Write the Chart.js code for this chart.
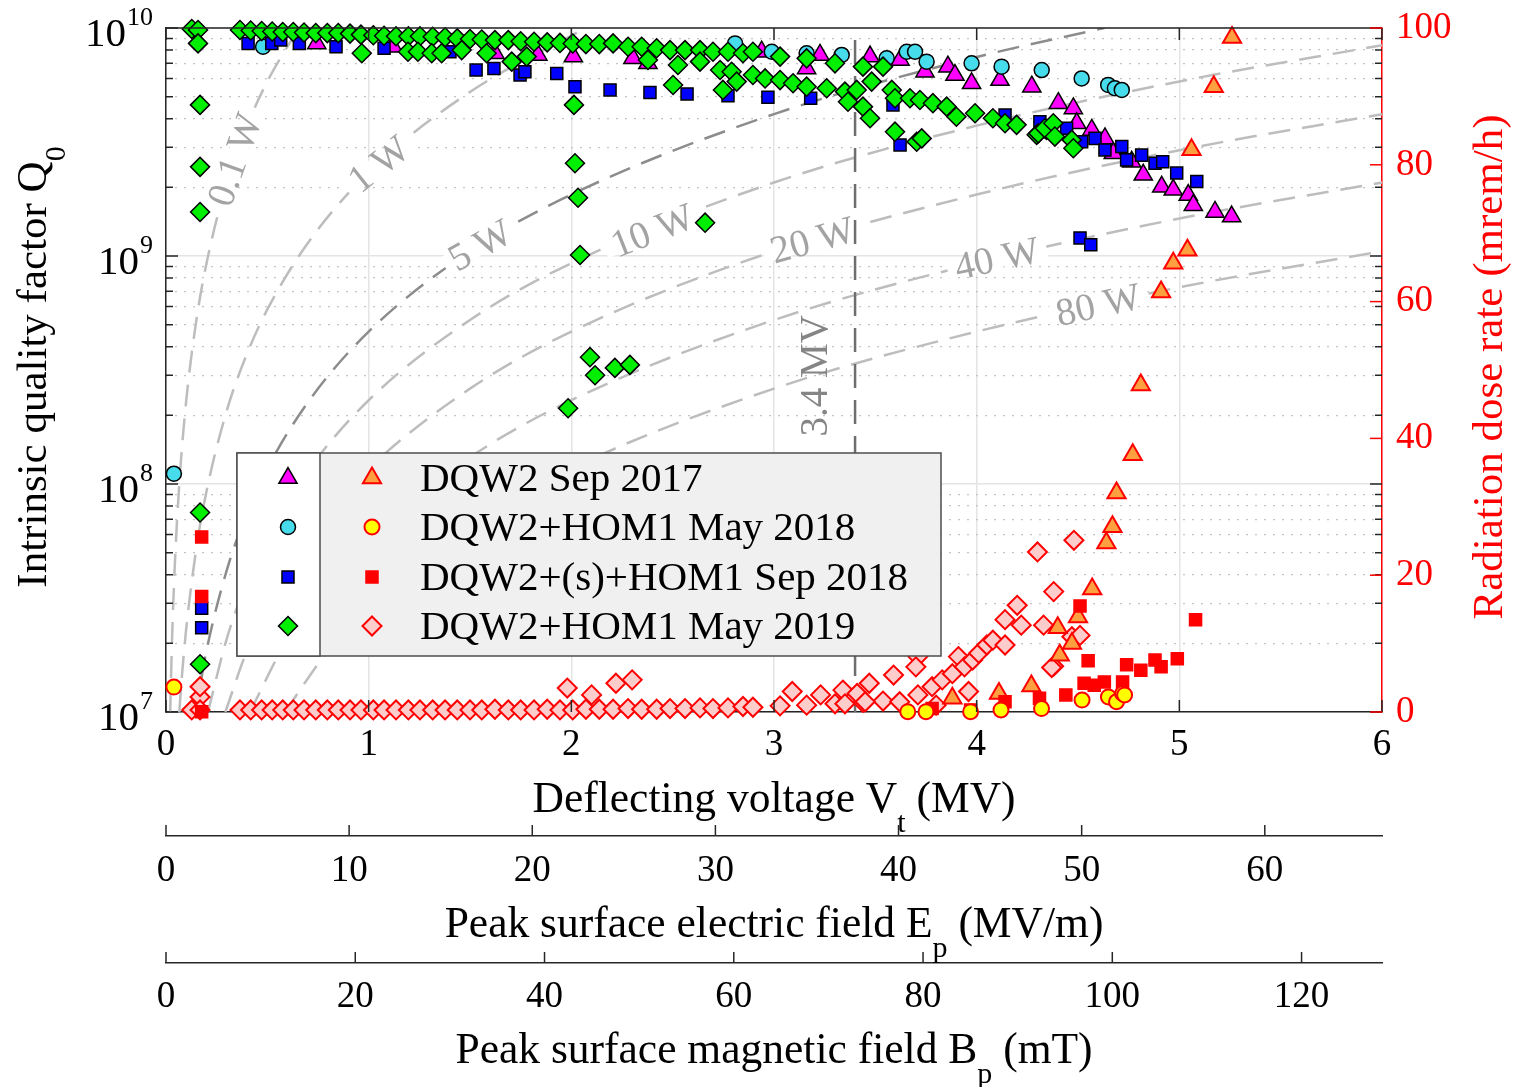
<!DOCTYPE html>
<html lang="en">
<head>
<meta charset="UTF-8">
<title>DQW2 cavity: Q0 and radiation vs deflecting voltage</title>
<script src="https://cdn.jsdelivr.net/npm/chart.js"></script>
<style>
  body { margin: 0; background: #ffffff; }
  #wrap { width: 1520px; height: 1087px; }
</style>
</head>
<body>
<div id="wrap"><canvas id="c" width="1520" height="1087"></canvas></div>
<script>
const SERIF = '"Liberation Serif", "DejaVu Serif", serif';

// axis ranges / ticks
const epMax = 66.4;   // MV/m at Vt = 6 MV
const bpMax = 128.5;  // mT at Vt = 6 MV
const qTicks = [1e7,2e7,3e7,4e7,5e7,6e7,7e7,8e7,9e7,1e8,2e8,3e8,4e8,5e8,6e8,7e8,8e8,9e8,
                1e9,2e9,3e9,4e9,5e9,6e9,7e9,8e9,9e9,1e10];
const qMajor = [1e7, 1e8, 1e9, 1e10];
const qMajorExp = ['7', '8', '9', '10'];

// DQW2 Sep 2017 : Q0 (left) and dose rate (right)
const s17V = [0.744,1.120,1.623,1.835,2.010,2.304,2.378,2.939,3.161,3.227,3.474,3.622,3.745,3.858,3.893,3.975,
              4.115,4.272,4.403,4.477,4.494,4.568,4.633,4.674,4.765,4.822,4.913,4.970,5.044,5.069,5.176,5.258];
const s17Q = [8.56e9,8.28e9,7.75e9,7.62e9,7.49e9,7.36e9,7.0e9,7.87e9,6.65e9,7.62e9,7.49e9,7.24e9,6.43e9,6.77e9,6.22e9,5.72e9,
              5.91e9,5.53e9,4.68e9,4.44e9,3.82e9,3.57e9,3.28e9,2.82e9,2.59e9,2.27e9,2.01e9,1.95e9,1.85e9,1.67e9,1.56e9,1.49e9];
const s17RV = [3.88,4.11,4.27,4.40,4.41,4.47,4.50,4.57,4.64,4.67,4.69,4.77,4.81,4.91,4.97,5.04,5.06,5.17,5.26];
const s17R  = [2.0,2.7,3.8,12.3,8.3,10.0,13.9,18.0,24.7,27.1,32.0,37.6,47.8,61.4,65.6,67.5,82.2,91.4,98.6];

// DQW2+HOM1 May 2018
const m18V = [0.039,0.479,2.808,2.989,3.161,3.334,3.556,3.655,3.696,3.753,3.975,4.123,4.321,4.518,4.649,4.682,4.716];
const m18Q = [1.11e8,8.28e9,8.56e9,7.87e9,7.75e9,7.62e9,7.36e9,7.87e9,7.87e9,7.12e9,7.0e9,6.77e9,6.54e9,6.01e9,5.63e9,5.44e9,5.35e9];
const m18RV = [0.039,3.66,3.75,3.97,4.12,4.32,4.52,4.65,4.69,4.72,4.73];
const m18R  = [3.65,0.05,0.05,0.05,0.3,0.5,1.75,2.2,1.5,2.7,2.5];

// DQW2+(s)+HOM1 Sep 2018
const s18V = [0.176,0.176,0.405,0.522,0.566,0.658,0.839,1.076,1.401,1.530,1.618,1.747,1.771,1.928,2.018,2.191,2.388,2.571,2.773,
              2.970,3.181,3.587,3.622,4.140,4.312,4.444,4.518,4.584,4.633,4.716,4.740,4.814,4.880,4.918,4.987,5.086,4.510,4.563];
const s18Q = [2.85e7,2.34e7,8.56e9,8.56e9,8.86e9,8.56e9,8.28e9,8.15e9,7.87e9,6.54e9,6.65e9,6.22e9,6.43e9,6.32e9,5.53e9,5.35e9,5.21e9,5.14e9,5.04e9,
              4.97e9,4.92e9,4.6e9,3.07e9,4.15e9,3.88e9,3.63e9,3.17e9,3.28e9,2.92e9,3.02e9,2.64e9,2.77e9,2.55e9,2.59e9,2.31e9,2.12e9,1.20e9,1.12e9];
const s18RV = [0.176,0.176,0.176,3.78,3.97,4.14,4.31,4.44,4.53,4.55,4.51,4.58,4.63,4.72,4.74,4.81,4.88,4.91,4.99,5.08];
const s18R  = [25.6,16.9,0.05,0.5,0.3,1.5,2.0,2.5,4.2,7.5,15.5,3.9,4.4,4.4,6.9,6.1,7.6,6.6,7.8,13.5];

// DQW2+HOM1 May 2019
const m19V = [0.127,0.158,0.158,0.168,0.168,0.168,0.168,0.168,
  0.365,0.418,0.472,0.524,0.576,0.628,0.681,0.739,0.796,0.850,0.908,0.962,1.023,1.076,1.135,1.196,1.253,1.316,1.377,1.437,
  1.500,1.558,1.623,1.689,1.750,1.816,1.881,1.944,2.007,2.072,2.138,2.206,2.280,2.347,2.421,2.487,2.561,2.635,2.699,2.773,
  2.847,2.896,3.030,3.161,3.301,3.439,3.538,
  0.966,1.194,1.243,1.311,1.360,1.459,1.582,1.706,1.780,2.013,2.018,2.033,2.043,2.092,2.117,2.215,2.289,1.984,2.66,2.378,
  2.526,2.635,2.734,2.791,2.816,2.748,2.896,2.956,3.030,3.094,3.161,3.260,3.350,3.408,3.365,3.439,3.474,3.482,3.581,3.597,
  3.671,3.720,3.784,3.852,3.900,3.992,4.080,4.140,4.197,4.296,4.345,2.502,3.597,3.704,3.729,4.304,4.337,4.378,4.386,4.469,4.477];
const m19Q = [9.9e9,9.8e9,8.56e9,4.6e9,2.46e9,1.56e9,7.5e7,1.62e7,
  9.8e9,9.75e9,9.7e9,9.65e9,9.6e9,9.6e9,9.55e9,9.5e9,9.5e9,9.5e9,9.45e9,9.35e9,9.3e9,9.25e9,9.2e9,9.2e9,9.2e9,9.15e9,9.1e9,9.0e9,
  8.95e9,8.9e9,8.85e9,8.85e9,8.75e9,8.7e9,8.65e9,8.6e9,8.55e9,8.5e9,8.5e9,8.56e9,8.28e9,8.28e9,8.15e9,8.0e9,8.0e9,8.0e9,7.87e9,7.87e9,
  7.75e9,7.87e9,7.49e9,7.36e9,7.0e9,6.77e9,6.77e9,
  7.75e9,7.87e9,7.87e9,7.75e9,7.75e9,8.0e9,7.75e9,7.12e9,7.49e9,4.6e9,2.55e9,1.80e9,1.01e9,3.6e8,3.0e8,3.23e8,3.33e8,2.15e8,1.40e9,7.24e9,
  6.88e9,7.12e9,6.54e9,6.43e9,5.82e9,5.35e9,6.22e9,6.01e9,5.91e9,5.72e9,5.53e9,5.44e9,5.26e9,5.35e9,4.75e9,4.52e9,4.02e9,5.82e9,5.35e9,4.92e9,
  4.92e9,4.83e9,4.68e9,4.52e9,4.08e9,4.23e9,4.02e9,3.82e9,3.76e9,3.4e9,3.57e9,5.62e9,3.51e9,3.17e9,3.28e9,3.45e9,3.63e9,3.82e9,3.34e9,3.23e9,2.97e9];
const m19RV = [0.127,0.168,0.168,0.168,
  0.365,0.418,0.472,0.524,0.576,0.628,0.681,0.739,0.796,0.850,0.908,0.962,1.023,1.076,1.135,1.196,1.253,1.316,1.377,1.437,
  1.500,1.558,1.623,1.689,1.750,1.816,1.881,1.944,2.007,2.072,2.138,2.206,2.280,2.347,2.421,2.487,2.561,2.635,2.699,2.773,
  2.847,2.896,3.030,3.161,3.301,3.439,3.538,
  1.98,2.10,2.22,2.30,3.09,3.23,3.34,3.41,3.47,3.59,3.71,3.70,3.71,3.78,3.83,3.88,3.91,3.94,3.98,4.01,
  4.05,4.08,4.14,4.14,4.20,4.22,4.30,4.33,4.38,4.38,4.47,4.51,4.48,4.37,3.96,3.35,3.45,3.62,3.80];
const m19R = [0.3,2.2,3.7,0.3,
  0.3,0.3,0.3,0.3,0.3,0.3,0.3,0.3,0.3,0.3,0.3,0.3,0.3,0.3,0.3,0.3,0.3,0.3,0.3,0.3,
  0.3,0.3,0.4,0.3,0.3,0.3,0.4,0.3,0.3,0.4,0.4,0.4,0.5,0.4,0.4,0.5,0.5,0.6,0.5,0.6,
  0.8,0.7,0.9,1.0,1.2,1.4,1.6,
  3.5,2.5,4.2,4.7,3.0,2.5,3.2,2.7,4.2,5.4,8.1,6.6,2.5,3.7,4.7,5.6,8.1,6.6,7.6,8.6,
  9.8,10.5,9.8,13.5,15.6,12.7,23.4,12.7,17.6,6.7,11.0,11.2,25.1,6.5,3.0,1.2,1.5,1.5,1.0];

// constant dissipated power curves
const p01V = [0.0207,0.03,0.04,0.05,0.07,0.1,0.15,0.2,0.3,0.4,0.5,0.655];
const p01Q = [1e7,2.1e7,3.73e7,5.83e7,1.14e8,2.33e8,5.24e8,9.3e8,2.1e9,3.73e9,5.83e9,1e10];
const p1V = [0.0655,0.08,0.1,0.15,0.2,0.3,0.4,0.5,0.7,1.0,1.5,2.07];
const p1Q = [1e7,1.49e7,2.33e7,5.24e7,9.3e7,2.1e8,3.73e8,5.83e8,1.14e9,2.33e9,5.24e9,1e10];
const p5V = [0.1465,0.2,0.3,0.4,0.5,0.7,1.0,1.5,2,3,4,4.63];
const p5Q = [1e7,1.86e7,4.19e7,7.46e7,1.17e8,2.28e8,4.66e8,1.05e9,1.86e9,4.19e9,7.46e9,1e10];
const p10V = [0.207,0.3,0.4,0.5,0.7,1,1.5,2,3,4,5,6];
const p10Q = [1e7,2.1e7,3.73e7,5.83e7,1.14e8,2.33e8,5.24e8,9.3e8,2.1e9,3.73e9,5.83e9,8.4e9];
const p20V = [0.293,0.4,0.6,0.8,1,1.5,2,3,4,5,6];
const p20Q = [1e7,1.86e7,4.19e7,7.46e7,1.17e8,2.62e8,4.66e8,1.05e9,1.86e9,2.91e9,4.19e9];
const p40V = [0.414,0.6,0.8,1,1.5,2,3,4,5,6];
const p40Q = [1e7,2.1e7,3.73e7,5.83e7,1.31e8,2.33e8,5.24e8,9.3e8,1.46e9,2.1e9];
const p80V = [0.586,0.8,1,1.5,2,3,4,5,6];
const p80Q = [1e7,1.86e7,2.91e7,6.55e7,1.17e8,2.62e8,4.66e8,7.29e8,1.05e9];
const vlineV = [3.4, 3.4];
const vlineQ = [1e7, 1e10];

const seriesNames = ['DQW2 Sep 2017', 'DQW2+HOM1 May 2018', 'DQW2+(s)+HOM1 Sep 2018', 'DQW2+HOM1 May 2019'];

// marker styles
const st = {
  s17Q: { shape: 'triangle', fill: '#ff00ff', edge: '#000000', bw: 1.5, r: 10.5 },
  m18Q: { shape: 'circle',   fill: '#47dcec', edge: '#000000', bw: 1.5, r: 7.5 },
  s18Q: { shape: 'rect',     fill: '#0000ff', edge: '#000000', bw: 1.5, r: 8.5 },
  m19Q: { shape: 'rectRot',  fill: '#00ee00', edge: '#000000', bw: 1.5, r: 9.5 },
  s17R: { shape: 'triangle', fill: '#ffa040', edge: '#ff0000', bw: 2, r: 10.5 },
  m18R: { shape: 'circle',   fill: '#ffff00', edge: '#ff0000', bw: 2, r: 7.5 },
  s18R: { shape: 'rect',     fill: '#ff0000', edge: '#ff0000', bw: 1.5, r: 8.5 },
  m19R: { shape: 'rectRot',  fill: '#ffcccc', edge: '#ff0000', bw: 2, r: 9.5 }
};

function pts(xs, ys) { return xs.map((x, i) => ({ x: x, y: ys[i] })); }
const isDecade = v => Math.abs(Math.log10(v) - Math.round(Math.log10(v))) < 1e-6;

function markerSet(label, xs, ys, axis, s, order) {
  return { label, data: pts(xs, ys), yAxisID: axis, showLine: false, clip: false, order,
    pointStyle: s.shape, pointRadius: s.r, pointHoverRadius: s.r,
    pointBackgroundColor: s.fill, pointBorderColor: s.edge, pointBorderWidth: s.bw };
}
function wattLine(label, xs, ys, color, labelV, order) {
  return { type: 'line', label, data: pts(xs, ys), yAxisID: 'y', pointRadius: 0, fill: false,
    borderColor: color, borderWidth: 2.5, borderDash: [22, 12], cubicInterpolationMode: 'monotone',
    wattLabel: label, labelV, order };
}

const datasets = [
  wattLine('0.1 W', p01V, p01Q, '#bdbdbd', 0.34, 30),
  wattLine('1 W', p1V, p1Q, '#bdbdbd', 1.05, 29),
  wattLine('5 W', p5V, p5Q, '#8c8c8c', 1.55, 28),
  wattLine('10 W', p10V, p10Q, '#bdbdbd', 2.40, 27),
  wattLine('20 W', p20V, p20Q, '#bdbdbd', 3.19, 26),
  wattLine('40 W', p40V, p40Q, '#bdbdbd', 4.10, 25),
  wattLine('80 W', p80V, p80Q, '#bdbdbd', 4.60, 24),
  { type: 'line', label: '3.4 MV', data: pts(vlineV, vlineQ), yAxisID: 'y', pointRadius: 0, fill: false,
    borderColor: '#6e6e6e', borderWidth: 2.5, borderDash: [24, 12], tension: 0, vLabel: '3.4 MV', labelQ: 2.98e8, order: 20 },
  markerSet(seriesNames[0], s17V, s17Q, 'y', st.s17Q, 9),
  markerSet(seriesNames[1], m18V, m18Q, 'y', st.m18Q, 8),
  markerSet(seriesNames[2], s18V, s18Q, 'y', st.s18Q, 7),
  markerSet(seriesNames[3], m19V, m19Q, 'y', st.m19Q, 6),
  markerSet(seriesNames[3] + ' dose', m19RV, m19R, 'yR', st.m19R, 4),
  markerSet(seriesNames[0] + ' dose', s17RV, s17R, 'yR', st.s17R, 3),
  markerSet(seriesNames[2] + ' dose', s18RV, s18R, 'yR', st.s18R, 2),
  markerSet(seriesNames[1] + ' dose', m18RV, m18R, 'yR', st.m18R, 1)
];

function drawMarker(ctx, s, x, y) {
  const r = s.r;
  ctx.save();
  ctx.beginPath();
  if (s.shape === 'circle') ctx.arc(x, y, r, 0, Math.PI * 2);
  else if (s.shape === 'triangle') {
    ctx.moveTo(x, y - r); ctx.lineTo(x + r * 0.866, y + r / 2); ctx.lineTo(x - r * 0.866, y + r / 2); ctx.closePath();
  } else if (s.shape === 'rect') {
    const h = r * Math.SQRT1_2; ctx.rect(x - h, y - h, 2 * h, 2 * h);
  } else {
    ctx.moveTo(x, y - r); ctx.lineTo(x + r, y); ctx.lineTo(x, y + r); ctx.lineTo(x - r, y); ctx.closePath();
  }
  ctx.fillStyle = s.fill; ctx.fill();
  ctx.lineWidth = s.bw; ctx.strokeStyle = s.edge; ctx.stroke();
  ctx.restore();
}

// text with subscripts, centred on x, baseline y
function subText(ctx, parts, x, y, size, color) {
  const sub = Math.round(size * 0.7);
  let total = 0;
  const w = parts.map(p => { ctx.font = (p[1] ? sub : size) + 'px ' + SERIF; const m = ctx.measureText(p[0]).width; total += m; return m; });
  let cx = x - total / 2;
  ctx.fillStyle = color; ctx.textAlign = 'left'; ctx.textBaseline = 'alphabetic';
  parts.forEach((p, i) => {
    ctx.font = (p[1] ? sub : size) + 'px ' + SERIF;
    ctx.fillText(p[0], cx, y + (p[1] ? size * 0.45 : 0));
    cx += w[i];
  });
}

const overlay = {
  id: 'overlay',
  afterDatasetDraw(chart, args) {
    const ds = chart.data.datasets[args.index];
    const ctx = chart.ctx;
    if (ds.wattLabel) {
      const el = args.meta.data;
      const px = chart.scales.x.getPixelForValue(ds.labelV);
      let i = 1;
      while (i < el.length - 1 && el[i].x < px) i++;
      const a = el[i - 1], b = el[i];
      const py = a.y + (px - a.x) / (b.x - a.x) * (b.y - a.y);
      const ang = Math.atan2(b.y - a.y, b.x - a.x);
      ctx.save();
      ctx.translate(px, py); ctx.rotate(ang);
      ctx.font = '39px ' + SERIF;
      const tw = ctx.measureText(ds.wattLabel).width;
      ctx.fillStyle = '#ffffff'; ctx.fillRect(-tw / 2 - 8, -9, tw + 16, 18);
      ctx.fillStyle = '#a3a3a3'; ctx.textAlign = 'center'; ctx.textBaseline = 'middle';
      ctx.fillText(ds.wattLabel, 0, 2);
      ctx.restore();
    }
    if (ds.vLabel) {
      const px = chart.scales.x.getPixelForValue(ds.data[0].x) - 40;
      const py = chart.scales.y.getPixelForValue(ds.labelQ);
      ctx.save();
      ctx.translate(px, py); ctx.rotate(-Math.PI / 2);
      ctx.font = '39px ' + SERIF; ctx.fillStyle = '#858585';
      ctx.textAlign = 'center'; ctx.textBaseline = 'middle';
      ctx.fillText(ds.vLabel, 0, 2);
      ctx.restore();
    }
  },
  afterDraw(chart) {
    const ctx = chart.ctx, ca = chart.chartArea;
    const sx = chart.scales.x, sy = chart.scales.y, sr = chart.scales.yR;
    ctx.save();
    // top frame line
    ctx.strokeStyle = '#262626'; ctx.lineWidth = 1.5;
    ctx.beginPath(); ctx.moveTo(ca.left, ca.top); ctx.lineTo(ca.right, ca.top); ctx.stroke();
    // inward ticks, x
    sx.ticks.forEach(t => {
      const x = sx.getPixelForValue(t.value);
      ctx.beginPath(); ctx.moveTo(x, ca.bottom); ctx.lineTo(x, ca.bottom - 12);
      ctx.moveTo(x, ca.top); ctx.lineTo(x, ca.top + 12); ctx.stroke();
    });
    // inward ticks, log axis (both sides)
    sy.ticks.forEach(t => {
      const y = sy.getPixelForValue(t.value);
      const len = isDecade(t.value) ? 12 : 7;
      ctx.strokeStyle = '#262626';
      ctx.beginPath(); ctx.moveTo(ca.left, y); ctx.lineTo(ca.left + len, y);
      ctx.moveTo(ca.right, y); ctx.lineTo(ca.right - len, y); ctx.stroke();
    });
    // right axis ticks
    ctx.strokeStyle = '#ff0000';
    sr.ticks.forEach(t => {
      const y = sr.getPixelForValue(t.value);
      ctx.beginPath(); ctx.moveTo(ca.right, y); ctx.lineTo(ca.right - 12, y); ctx.stroke();
    });
    // secondary x axes, upward ticks
    ['x2', 'x3'].forEach(id => {
      const s = chart.scales[id];
      ctx.strokeStyle = '#262626';
      s.ticks.forEach(t => {
        const x = s.getPixelForValue(t.value);
        ctx.beginPath(); ctx.moveTo(x, s.top); ctx.lineTo(x, s.top - 11); ctx.stroke();
      });
    });
    // left tick labels 10^n
    ctx.fillStyle = '#000'; ctx.textAlign = 'right'; ctx.textBaseline = 'alphabetic';
    qMajor.forEach((v, i) => {
      const y = sy.getPixelForValue(v);
      const xr = ca.left - 13;
      ctx.font = '26px ' + SERIF;
      const ew = ctx.measureText(qMajorExp[i]).width;
      ctx.fillText(qMajorExp[i], xr, y - 3);
      ctx.font = '41px ' + SERIF;
      ctx.fillText('10', xr - ew - 1, y + 18);
    });
    // axis titles
    const cx = (ca.left + ca.right) / 2;
    subText(ctx, [['Deflecting voltage V', false], ['t', true], [' (MV)', false]], cx, sx.top + 100, 43.5, '#000');
    subText(ctx, [['Peak surface electric field E', false], ['p', true], [' (MV/m)', false]], cx, chart.scales.x2.top + 101, 43.5, '#000');
    subText(ctx, [['Peak surface magnetic field B', false], ['p', true], [' (mT)', false]], cx, chart.scales.x3.top + 100, 43.5, '#000');
    const cy = (ca.top + ca.bottom) / 2;
    ctx.save(); ctx.translate(46, cy - 3); ctx.rotate(-Math.PI / 2);
    subText(ctx, [['Intrinsic quality factor Q', false], ['0', true]], 0, 0, 43, '#000');
    ctx.restore();
    ctx.save(); ctx.translate(1502, cy - 3); ctx.rotate(-Math.PI / 2);
    subText(ctx, [['Radiation dose rate (mrem/h)', false]], 0, 0, 43, '#ff0000');
    ctx.restore();
    // legend
    const lg = { x: 237, y: 453, w: 704, h: 203, split: 83, rows: [478, 527, 577, 626], m1: 288, m2: 372, tx: 420 };
    ctx.lineWidth = 1.5; ctx.strokeStyle = '#4d4d4d';
    ctx.fillStyle = '#f0f0f0'; ctx.fillRect(lg.x, lg.y, lg.w, lg.h); ctx.strokeRect(lg.x, lg.y, lg.w, lg.h);
    ctx.fillStyle = '#ffffff'; ctx.fillRect(lg.x, lg.y, lg.split, lg.h); ctx.strokeRect(lg.x, lg.y, lg.split, lg.h);
    const qs = [st.s17Q, st.m18Q, st.s18Q, st.m19Q], rs = [st.s17R, st.m18R, st.s18R, st.m19R];
    seriesNames.forEach((name, i) => {
      const y = lg.rows[i];
      drawMarker(ctx, qs[i], lg.m1, y);
      drawMarker(ctx, rs[i], lg.m2, y);
      ctx.fillStyle = '#000'; ctx.font = '41px ' + SERIF; ctx.textAlign = 'left'; ctx.textBaseline = 'middle';
      ctx.fillText(name, lg.tx, y + 2);
    });
    ctx.restore();
  }
};

const tickFont = { family: SERIF, size: 37 };
const logTicks = s => { s.ticks = qTicks.map(v => ({ value: v, major: isDecade(v) })); };
const noPadV = w => s => { s.width = w; s.paddingTop = 0; s.paddingBottom = 0; };
const noPadH = h => s => { s.height = h; s.paddingLeft = 0; s.paddingRight = 0; };

new Chart(document.getElementById('c'), {
  type: 'scatter',
  data: { datasets },
  options: {
    responsive: false,
    animation: false,
    devicePixelRatio: 1,
    events: [],
    layout: { padding: { top: 28, left: 0, right: 0, bottom: 0 } },
    plugins: { legend: { display: false }, tooltip: { enabled: false } },
    scales: {
      x: {
        type: 'linear', position: 'bottom', weight: 0, min: 0, max: 6,
        ticks: { stepSize: 1, autoSkip: false, maxRotation: 0, color: '#000', padding: 11, font: tickFont },
        grid: { color: '#e4e4e4', lineWidth: 1.5, drawTicks: false },
        border: { color: '#262626', width: 1.5 },
        afterFit: noPadH(124)
      },
      x2: {
        type: 'linear', position: 'bottom', weight: 1, min: 0, max: epMax,
        ticks: { stepSize: 10, includeBounds: false, autoSkip: false, maxRotation: 0, color: '#000', padding: 13, font: tickFont },
        grid: { drawOnChartArea: false, drawTicks: false },
        border: { color: '#262626', width: 1.5 },
        afterFit: noPadH(127)
      },
      x3: {
        type: 'linear', position: 'bottom', weight: 2, min: 0, max: bpMax,
        ticks: { stepSize: 20, includeBounds: false, autoSkip: false, maxRotation: 0, color: '#000', padding: 12, font: tickFont },
        grid: { drawOnChartArea: false, drawTicks: false },
        border: { color: '#262626', width: 1.5 },
        afterFit: noPadH(124)
      },
      y: {
        type: 'logarithmic', position: 'left', weight: 0, min: 1e7, max: 1e10,
        afterBuildTicks: logTicks,
        ticks: { display: false, autoSkip: false },
        grid: { color: c => (c.tick && isDecade(c.tick.value)) ? '#e4e4e4' : 'rgba(0,0,0,0)', lineWidth: 1.5, drawTicks: false },
        border: { color: '#262626', width: 1.5 },
        afterFit: noPadV(166)
      },
      yMinor: {
        type: 'logarithmic', position: 'left', weight: 1, min: 1e7, max: 1e10,
        afterBuildTicks: logTicks,
        ticks: { display: false, autoSkip: false },
        grid: { color: c => (c.tick && !isDecade(c.tick.value)) ? '#c4c4c4' : 'rgba(0,0,0,0)', lineWidth: 1.3, drawTicks: false, borderDash: [2, 7] },
        border: { display: false, dash: [2, 7] },
        afterFit: noPadV(0)
      },
      yR: {
        type: 'linear', position: 'right', min: 0, max: 100,
        ticks: { stepSize: 20, autoSkip: false, color: '#ff0000', padding: 14, font: tickFont },
        grid: { drawOnChartArea: false, drawTicks: false },
        border: { color: '#ff0000', width: 1.5 },
        afterFit: noPadV(138)
      }
    }
  },
  plugins: [overlay]
});
</script>
</body>
</html>
